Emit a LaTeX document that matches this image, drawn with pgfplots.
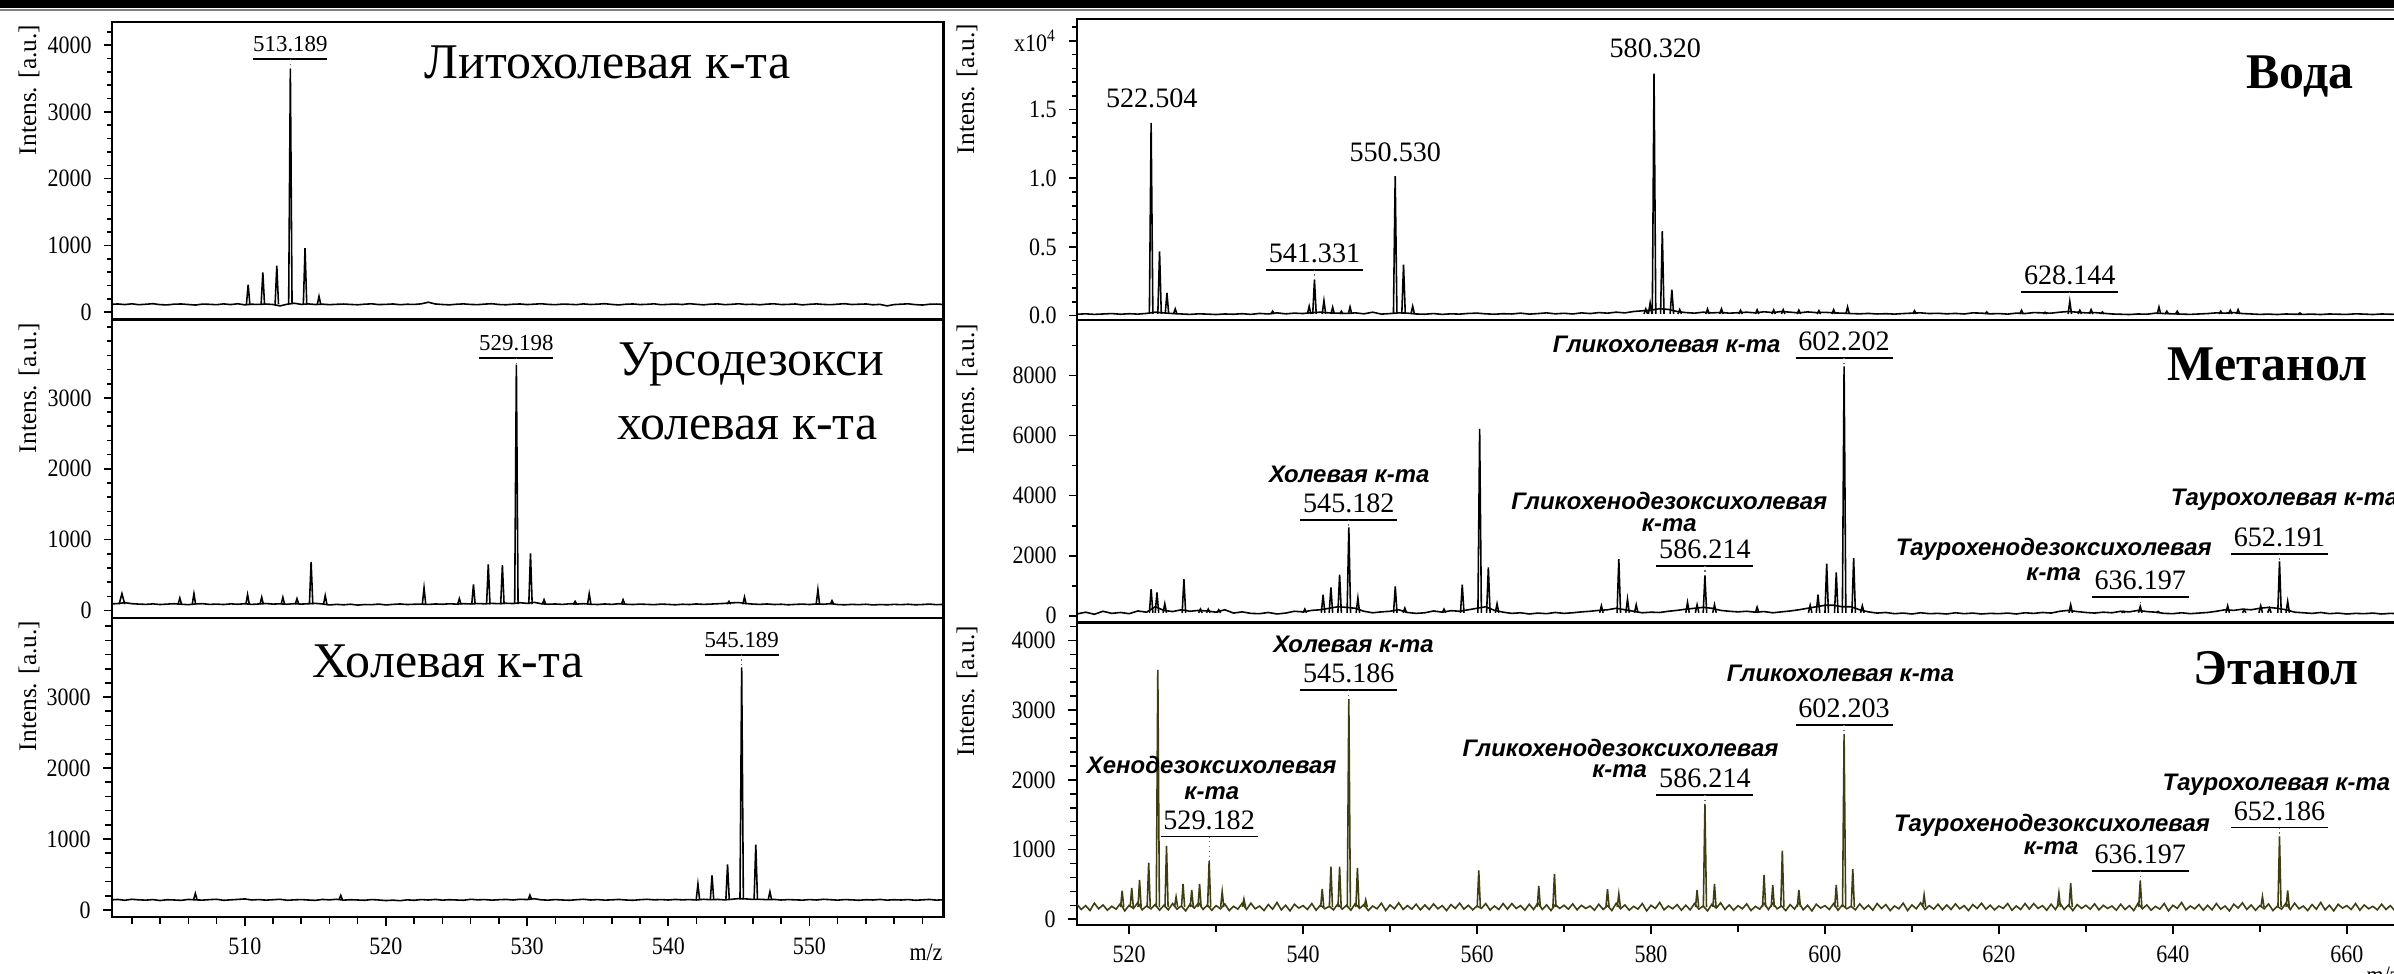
\documentclass[border=0pt]{standalone}
\usepackage{pgfplots}
\pgfplotsset{compat=1.18}
\usepackage{fontspec}
\setmainfont{Liberation Serif}
\newfontfamily\lsans{Liberation Sans}
\newfontfamily\tickfam{Liberation Serif}[FakeStretch=0.88]
\definecolor{olivetrace}{RGB}{62,62,18}
\newcommand\tickf{\tickfam\fontsize{7.1}{8}\selectfont}
\newcommand\labf{\fontsize{7.2}{8}\selectfont}
\newcommand\plL{\fontsize{6.5}{7}\selectfont}
\newcommand\plR{\fontsize{8}{9}\selectfont}
\newcommand\bigL{\fontsize{14.2}{16}\selectfont}
\newcommand\bigR{\fontsize{14.2}{16}\selectfont\bfseries}
\newcommand\sbi{\lsans\bfseries\itshape\fontsize{6.8}{7.5}\selectfont}
% #1 x, #2 underline y, #3 peak y, #4 half width, #5 font, #6 text
\newcommand{\plab}[6]{%
  \draw[line width=0.55pt] ([xshift=-#4]axis cs:#1,#2) -- ([xshift=#4]axis cs:#1,#2);
  \draw[densely dotted, line width=0.35pt, black!60] (axis cs:#1,#2) -- (axis cs:#1,#3);
  \node[anchor=south, inner sep=0pt, yshift=1.8pt, font=#5] at (axis cs:#1,#2) {#6};
}
\pgfplotsset{
  spec/.style={scale only axis, anchor=south west,
    axis line style={line width=0.6pt},
    tick style={line width=0.45pt, black}, tick align=outside,
    xtick pos=left, ytick pos=left,
    major tick length=0.08cm, minor tick length=0.05cm,
    ticklabel style={font=\tickf}, scaled ticks=false,
    unbounded coords=jump},
}
\begin{document}
\begin{tikzpicture}[x=0.01cm,y=0.01cm]
\useasboundingbox (0,0) rectangle (2394,974);
\clip (0,0) rectangle (2394,974);
\fill[black] (0,966) rectangle (2394,974);
\draw[gray,line width=0.6pt] (0,964) -- (2394,964);

% ================= LEFT 1 =================
\begin{axis}[spec, at={(1.12cm,6.55cm)}, width=8.31cm, height=2.963cm,
  xmin=500.6, xmax=559.5, ymin=-95, ymax=4345, xtick=\empty,
  ytick={0,1000,2000,3000,4000}, yticklabels={0,1000,2000,3000,4000},
  minor ytick={200,400,...,4200}]
\addplot[black, line width=0.45pt] table[row sep=\\] {x y\\
500.5 118\\501 124\\501.5 115\\502 126\\502.5 113\\503 120\\503.5 128\\504 114\\504.5 110\\505 121\\505.5 124\\506 116\\506.5 108\\507 122\\507.5 119\\508 113\\508.5 125\\509 115\\509.5 127\\510 111\\510.5 120\\511 117\\511.5 123\\512 116\\512.5 95\\513 120\\513.5 135\\514 118\\514.5 125\\515 116\\515.5 121\\516 114\\516.5 119\\517 123\\517.5 117\\518 112\\518.5 121\\519 126\\519.5 115\\520 118\\520.5 124\\521 113\\521.5 120\\522 117\\522.5 126\\523 150\\523.5 124\\524 116\\524.5 111\\525 120\\525.5 125\\526 117\\526.5 114\\527 122\\527.5 128\\528 116\\528.5 112\\529 120\\529.5 124\\530 115\\530.5 121\\531 127\\531.5 118\\532 113\\532.5 122\\533 119\\533.5 114\\534 125\\534.5 116\\535 121\\535.5 128\\536 117\\536.5 110\\537 120\\537.5 124\\538 115\\538.5 119\\539 126\\539.5 113\\540 118\\540.5 123\\541 116\\541.5 128\\542 119\\542.5 111\\543 121\\543.5 125\\544 114\\544.5 119\\545 127\\545.5 116\\546 120\\546.5 112\\547 122\\547.5 126\\548 115\\548.5 118\\549 124\\549.5 110\\550 119\\550.5 125\\551 117\\551.5 113\\552 121\\552.5 128\\553 116\\553.5 120\\554 124\\554.5 112\\555 118\\555.5 95\\556 115\\556.5 121\\557 126\\557.5 114\\558 108\\558.5 120\\559 123\\559.5 117\\
};
\addplot[black, line width=0.45pt] table[row sep=\\] {x y\\
510.12 120\\510.24 413\\510.36 120\\510.4 nan\\
511.16 120\\511.28 597\\511.40 120\\511.4 nan\\
512.15 120\\512.27 697\\512.39 120\\512.4 nan\\
513.11 120\\513.23 3647\\513.35 120\\513.4 nan\\
514.15 120\\514.27 960\\514.39 120\\514.4 nan\\
515.14 120\\515.26 239\\515.38 120\\
};
\plab{513.23}{3796}{3647}{0.37cm}{\plL}{513.189}
\node[font=\bigL] at (axis cs:535.7,3740) {Литохолевая к-та};
\end{axis}

% ================= LEFT 2 =================
\begin{axis}[spec, at={(1.12cm,3.56cm)}, width=8.31cm, height=2.98cm,
  xmin=500.6, xmax=559.5, ymin=-103, ymax=4106, xtick=\empty,
  ytick={0,1000,2000,3000}, yticklabels={0,1000,2000,3000},
  minor ytick={200,400,...,4000}]
\addplot[black, line width=0.45pt] table[row sep=\\] {x y\\
500.5 92\\501 98\\501.5 110\\502 96\\502.5 90\\503 86\\503.5 93\\504 84\\504.5 90\\505 95\\505.5 88\\506 82\\506.5 92\\507 96\\507.5 86\\508 90\\508.5 84\\509 93\\509.5 88\\510 95\\510.5 86\\511 92\\511.5 98\\512 90\\512.5 94\\513 88\\513.5 96\\514 90\\514.5 95\\515 100\\515.5 92\\516 78\\516.5 86\\517 80\\517.5 88\\518 76\\518.5 84\\519 82\\519.5 90\\520 78\\520.5 86\\521 92\\521.5 84\\522 88\\522.5 90\\523 85\\523.5 92\\524 88\\524.5 94\\525 90\\525.5 96\\526 92\\526.5 98\\527 94\\527.5 100\\528 96\\528.5 102\\529 98\\529.5 110\\530 100\\530.5 115\\531 95\\531.5 88\\532 92\\532.5 86\\533 94\\533.5 90\\534 96\\534.5 88\\535 84\\535.5 92\\536 86\\536.5 95\\537 88\\537.5 84\\538 90\\538.5 86\\539 82\\539.5 90\\540 86\\540.5 80\\541 88\\541.5 84\\542 92\\542.5 86\\543 90\\543.5 95\\544 100\\544.5 108\\545 112\\545.5 98\\546 90\\546.5 86\\547 92\\547.5 84\\548 88\\548.5 80\\549 86\\549.5 90\\550 84\\550.5 92\\551 88\\551.5 96\\552 84\\552.5 80\\553 86\\553.5 82\\554 88\\554.5 78\\555 84\\555.5 80\\556 86\\556.5 82\\557 88\\557.5 80\\558 84\\558.5 90\\559 82\\559.5 86\\
};
\addplot[black, line width=0.45pt] table[row sep=\\] {x y\\
501.1 88\\501.3 238\\501.5 88\\501.5 nan\\
505.28 88\\505.4 176\\505.52 88\\505.5 nan\\
506.28 88\\506.4 238\\506.52 88\\506.5 nan\\
510.08 88\\510.2 224\\510.32 88\\510.3 nan\\
511.08 88\\511.2 186\\511.32 88\\511.3 nan\\
512.58 88\\512.7 186\\512.82 88\\512.8 nan\\
513.58 88\\513.7 167\\513.82 88\\513.8 nan\\
514.58 88\\514.7 686\\514.82 88\\514.8 nan\\
515.58 88\\515.7 210\\515.82 88\\515.8 nan\\
522.58 88\\522.7 319\\522.82 88\\522.8 nan\\
525.08 88\\525.2 167\\525.32 88\\525.3 nan\\
526.08 88\\526.2 367\\526.32 88\\526.3 nan\\
527.13 88\\527.25 652\\527.37 88\\527.4 nan\\
528.13 88\\528.25 638\\528.37 88\\528.4 nan\\
529.12 88\\529.24 3471\\529.36 88\\529.4 nan\\
530.12 88\\530.24 805\\530.36 88\\530.4 nan\\
531.08 88\\531.2 152\\531.32 88\\531.3 nan\\
533.28 88\\533.4 129\\533.52 88\\533.5 nan\\
534.28 88\\534.4 238\\534.52 88\\534.5 nan\\
536.68 88\\536.8 152\\536.92 88\\536.9 nan\\
544.18 88\\544.3 129\\544.42 88\\544.4 nan\\
545.28 88\\545.4 190\\545.52 88\\545.5 nan\\
550.48 88\\550.6 295\\550.72 88\\550.7 nan\\
551.48 88\\551.6 138\\551.72 88\\
};
\plab{529.24}{3565}{3471}{0.37cm}{\plL}{529.198}
\node[font=\bigL] at (axis cs:545.9,3470) {Урсодезокси};
\node[font=\bigL] at (axis cs:545.6,2576) {холевая к-та};
\end{axis}

% ================= LEFT 3 =================
\begin{axis}[spec, at={(1.12cm,0.57cm)}, width=8.31cm, height=2.99cm,
  xmin=500.6, xmax=559.5, ymin=-99, ymax=4118,
  xtick={510,520,530,540,550}, xticklabels={510,520,530,540,550},
  minor xtick={502,504,...,558},
  major tick length=0.09cm, minor tick length=0.07cm,
  ytick={0,1000,2000,3000}, yticklabels={0,1000,2000,3000},
  minor ytick={200,400,...,4000}]
\addplot[black, line width=0.45pt] table[row sep=\\] {x y\\
500.5 140\\501 148\\501.5 136\\502 150\\502.5 142\\503 138\\503.5 146\\504 132\\504.5 144\\505 140\\505.5 135\\506 148\\506.5 142\\507 138\\507.5 145\\508 150\\508.5 136\\509 142\\509.5 148\\510 155\\510.5 140\\511 146\\511.5 138\\512 144\\512.5 150\\513 136\\513.5 142\\514 146\\514.5 140\\515 135\\515.5 148\\516 142\\516.5 150\\517 138\\517.5 144\\518 140\\518.5 136\\519 146\\519.5 140\\520 132\\520.5 138\\521 130\\521.5 142\\522 136\\522.5 146\\523 140\\523.5 148\\524 138\\524.5 144\\525 140\\525.5 136\\526 150\\526.5 142\\527 146\\527.5 138\\528 144\\528.5 148\\529 140\\529.5 150\\530 146\\530.5 158\\531 142\\531.5 138\\532 146\\532.5 140\\533 136\\533.5 144\\534 150\\534.5 140\\535 146\\535.5 138\\536 142\\536.5 148\\537 140\\537.5 136\\538 144\\538.5 150\\539 142\\539.5 146\\540 140\\540.5 148\\541 142\\541.5 146\\542 140\\542.5 150\\543 144\\543.5 148\\544 142\\544.5 150\\545 160\\545.5 155\\546 148\\546.5 150\\547 144\\547.5 148\\548 140\\548.5 146\\549 142\\549.5 138\\550 146\\550.5 140\\551 150\\551.5 144\\552 138\\552.5 146\\553 142\\553.5 136\\554 144\\554.5 140\\555 148\\555.5 138\\556 144\\556.5 140\\557 146\\557.5 136\\558 142\\558.5 148\\559 138\\559.5 144\\
};
\addplot[black, line width=0.45pt] table[row sep=\\] {x y\\
506.38 145\\506.5 233\\506.62 145\\506.6 nan\\
516.68 145\\516.8 205\\516.92 145\\516.9 nan\\
530.08 145\\530.2 209\\530.32 145\\530.3 nan\\
541.98 145\\542.1 363\\542.22 145\\542.2 nan\\
542.98 145\\543.1 488\\543.22 145\\543.2 nan\\
544.08 145\\544.2 642\\544.32 145\\544.3 nan\\
545.08 145\\545.2 3419\\545.32 145\\545.3 nan\\
546.08 145\\546.2 921\\546.32 145\\546.3 nan\\
547.08 145\\547.2 256\\547.32 145\\
};
\plab{545.2}{3597}{3419}{0.37cm}{\plL}{545.189}
\node[font=\bigL] at (axis cs:524.4,3502) {Холевая к-та};
\end{axis}

% ================= RIGHT 1 (Вода) =================
\begin{axis}[spec, at={(10.763cm,6.533cm)}, width=13.30cm, height=3.007cm,
  xmin=514, xmax=667, ymin=-0.034, ymax=2.156, xtick=\empty,
  ytick={0,0.5,1,1.5,2}, yticklabels={0.0,0.5,1.0,1.5,x10\textsuperscript{4}},
  minor ytick={0.1,0.2,...,2.1}]
\addplot[black, line width=0.45pt] table[row sep=\\] {x y\\
514 .010\\515 .013\\516 .009\\517 .012\\518 .015\\519 .010\\520 .014\\521 .011\\522 .016\\523 .025\\524 .020\\525 .015\\526 .012\\527 .009\\528 .013\\529 .011\\530 .008\\531 .012\\532 .010\\533 .014\\534 .009\\535 .016\\536 .012\\537 .020\\538 .013\\539 .018\\540 .015\\541 .022\\542 .025\\543 .020\\544 .018\\545 .016\\546 .020\\547 .013\\548 .025\\549 .011\\550 .015\\551 .020\\552 .018\\553 .012\\554 .010\\555 .015\\556 .009\\557 .013\\558 .011\\559 .016\\560 .018\\561 .013\\562 .010\\563 .014\\564 .012\\565 .018\\566 .011\\567 .015\\568 .020\\569 .013\\570 .017\\571 .012\\572 .020\\573 .015\\574 .022\\575 .018\\576 .025\\577 .020\\578 .030\\579 .035\\580 .040\\581 .050\\582 .045\\583 .030\\584 .022\\585 .018\\586 .025\\587 .020\\588 .023\\589 .018\\590 .021\\591 .025\\592 .020\\593 .028\\594 .022\\595 .030\\596 .025\\597 .020\\598 .027\\599 .022\\600 .024\\601 .020\\602 .018\\603 .015\\604 .013\\605 .016\\606 .012\\607 .014\\608 .011\\609 .015\\610 .018\\611 .020\\612 .015\\613 .017\\614 .013\\615 .016\\616 .012\\617 .020\\618 .018\\619 .013\\620 .015\\621 .011\\622 .018\\623 .015\\624 .022\\625 .020\\626 .018\\627 .025\\628 .030\\629 .025\\630 .020\\631 .022\\632 .017\\633 .012\\634 .010\\635 .008\\636 .012\\637 .010\\638 .018\\639 .015\\640 .013\\641 .011\\642 .009\\643 .012\\644 .015\\645 .020\\646 .018\\647 .022\\648 .015\\649 .012\\650 .009\\651 .011\\652 .008\\653 .012\\654 .010\\655 .009\\656 .011\\657 .008\\658 .012\\659 .010\\660 .009\\661 .013\\662 .011\\663 .008\\664 .012\\665 .010\\666 .009\\667 .011\\
};
\addplot[black, line width=0.45pt] table[row sep=\\] {x y\\
522.33 .012\\522.53 1.403\\522.73 .012\\522.8 nan\\
523.3 .012\\523.5 .468\\523.7 .012\\523.7 nan\\
524.15 .012\\524.35 .165\\524.55 .012\\524.6 nan\\
525.1 .012\\525.3 .049\\525.5 .012\\525.5 nan\\
536.3 .012\\536.5 .032\\536.7 .012\\536.7 nan\\
540.5 .012\\540.7 .068\\540.9 .012\\540.9 nan\\
541.11 .012\\541.31 .262\\541.51 .012\\541.5 nan\\
542.2 .012\\542.4 .109\\542.6 .012\\542.6 nan\\
543.2 .012\\543.4 .061\\543.6 .012\\543.6 nan\\
544.2 .012\\544.4 .032\\544.6 .012\\544.6 nan\\
545.2 .012\\545.4 .063\\545.6 .012\\545.6 nan\\
550.39 .012\\550.59 1.0145\\550.79 .012\\550.8 nan\\
551.35 .012\\551.55 .371\\551.75 .012\\551.8 nan\\
552.4 .012\\552.6 .068\\552.8 .012\\552.8 nan\\
579.2 .012\\579.4 .049\\579.6 .012\\579.6 nan\\
579.7 .012\\579.9 .092\\580.1 .012\\580.1 nan\\
580.15 .012\\580.35 1.762\\580.55 .012\\580.6 nan\\
581.1 .012\\581.3 .614\\581.5 .012\\581.5 nan\\
582.2 .012\\582.4 .189\\582.6 .012\\582.6 nan\\
583.1 .012\\583.3 .044\\583.5 .012\\583.5 nan\\
586.3 .012\\586.5 .048\\586.7 .012\\586.7 nan\\
587.9 .012\\588.1 .049\\588.3 .012\\588.3 nan\\
590.1 .012\\590.3 .039\\590.5 .012\\590.5 nan\\
592 .012\\592.2 .042\\592.4 .012\\592.4 nan\\
593.9 .012\\594.1 .041\\594.3 .012\\594.3 nan\\
595 .012\\595.2 .043\\595.4 .012\\595.4 nan\\
596.8 .012\\597 .040\\597.2 .012\\597.2 nan\\
599.1 .012\\599.3 .036\\599.5 .012\\599.5 nan\\
600.8 .012\\601 .043\\601.2 .012\\601.2 nan\\
602.4 .012\\602.6 .063\\602.8 .012\\602.8 nan\\
610.1 .012\\610.3 .036\\610.5 .012\\610.5 nan\\
618.4 .012\\618.6 .027\\618.8 .012\\618.8 nan\\
622.4 .012\\622.6 .039\\622.8 .012\\622.8 nan\\
625.1 .012\\625.3 .024\\625.5 .012\\625.5 nan\\
627.95 .012\\628.15 .104\\628.35 .012\\628.4 nan\\
629.1 .012\\629.3 .039\\629.5 .012\\629.5 nan\\
630.4 .012\\630.6 .044\\630.8 .012\\630.8 nan\\
631.7 .012\\631.9 .027\\632.1 .012\\632.1 nan\\
638.2 .012\\638.4 .063\\638.6 .012\\638.6 nan\\
639.1 .012\\639.3 .032\\639.5 .012\\639.5 nan\\
640.3 .012\\640.5 .032\\640.7 .012\\640.7 nan\\
645.3 .012\\645.5 .032\\645.7 .012\\645.7 nan\\
646.4 .012\\646.6 .039\\646.8 .012\\646.8 nan\\
647.3 .012\\647.5 .044\\647.7 .012\\647.7 nan\\
654.4 .012\\654.6 .019\\654.8 .012\\
};
\node[font=\plR] at (axis cs:522.6,1.578) {522.504};
\node[font=\plR] at (axis cs:550.6,1.189) {550.530};
\node[font=\plR] at (axis cs:580.5,1.942) {580.320};
\plab{541.31}{0.3349}{0.262}{0.485cm}{\plR}{541.331}
\plab{628.15}{0.1723}{0.104}{0.485cm}{\plR}{628.144}
\node[font=\bigR] at (axis cs:654.6,1.738) {Вода};
\end{axis}

% ================= RIGHT 2 (Метанол) =================
\begin{axis}[spec, at={(10.763cm,3.513cm)}, width=13.30cm, height=3.02cm,
  xmin=514, xmax=667, ymin=-223, ymax=9843, xtick=\empty,
  ytick={0,2000,4000,6000,8000}, yticklabels={0,2000,4000,6000,8000},
  minor ytick={1000,2000,...,9000}]
\addplot[black, line width=0.45pt] table[row sep=\\] {x y\\
514 60\\515 120\\516 50\\517 150\\518 80\\519 110\\520 70\\521 160\\522 120\\523 300\\524 180\\525 140\\526 200\\527 150\\528 180\\529 160\\530 120\\531 200\\532 90\\533 130\\534 80\\535 70\\536 110\\537 60\\538 90\\539 150\\540 130\\541 180\\542 200\\543 250\\544 300\\545 280\\546 250\\547 150\\548 100\\549 130\\550 150\\551 200\\552 110\\553 80\\554 100\\555 160\\556 120\\557 170\\558 150\\559 200\\560 250\\561 300\\562 180\\563 120\\564 80\\565 100\\566 60\\567 90\\568 70\\569 110\\570 80\\571 100\\572 130\\573 150\\574 180\\575 200\\576 250\\577 200\\578 150\\579 100\\580 120\\581 110\\582 150\\583 180\\584 220\\585 250\\586 280\\587 250\\588 180\\589 150\\590 130\\591 150\\592 120\\593 140\\594 100\\595 130\\596 160\\597 200\\598 250\\599 300\\600 350\\601 350\\602 300\\603 300\\604 200\\605 130\\606 90\\607 110\\608 70\\609 90\\610 60\\611 100\\612 70\\613 80\\614 60\\615 100\\616 70\\617 90\\618 60\\619 80\\620 70\\621 90\\622 60\\623 100\\624 80\\625 110\\626 90\\627 150\\628 180\\629 140\\630 110\\631 90\\632 120\\633 100\\634 150\\635 130\\636 180\\637 140\\638 120\\639 80\\640 70\\641 100\\642 70\\643 90\\644 110\\645 150\\646 200\\647 180\\648 220\\649 200\\650 250\\651 280\\652 250\\653 200\\654 120\\655 100\\656 80\\657 110\\658 70\\659 90\\660 60\\661 80\\662 70\\663 90\\664 60\\665 80\\666 70\\667 90\\
};
\addplot[black, line width=0.45pt] table[row sep=\\] {x y\\
522.33 100\\522.53 889\\522.73 100\\522.8 nan\\
523.0 100\\523.2 778\\523.4 100\\523.4 nan\\
523.9 100\\524.1 400\\524.3 100\\524.3 nan\\
526.1 100\\526.3 1222\\526.5 100\\526.5 nan\\
528.0 100\\528.2 222\\528.4 100\\528.4 nan\\
528.9 100\\529.1 222\\529.3 100\\529.3 nan\\
530.1 100\\530.3 200\\530.5 100\\530.5 nan\\
540.0 100\\540.2 222\\540.4 100\\540.4 nan\\
542.1 100\\542.3 700\\542.5 100\\542.5 nan\\
543.0 100\\543.2 944\\543.4 100\\543.4 nan\\
544.0 100\\544.2 1367\\544.4 100\\544.4 nan\\
545.06 100\\545.26 2944\\545.46 100\\545.5 nan\\
546.1 100\\546.3 589\\546.5 100\\546.5 nan\\
550.4 100\\550.6 978\\550.8 100\\550.8 nan\\
551.5 100\\551.7 255\\551.9 100\\551.9 nan\\
556.0 100\\556.2 222\\556.4 100\\556.4 nan\\
558.1 100\\558.3 1033\\558.5 100\\558.5 nan\\
560.1 100\\560.3 6222\\560.5 100\\560.5 nan\\
561.1 100\\561.3 1611\\561.5 100\\561.5 nan\\
562.1 100\\562.3 400\\562.5 100\\562.5 nan\\
574.1 100\\574.3 333\\574.5 100\\574.5 nan\\
576.1 100\\576.3 1889\\576.5 100\\576.5 nan\\
577.1 100\\577.3 555\\577.5 100\\577.5 nan\\
578.1 100\\578.3 367\\578.5 100\\578.5 nan\\
584.0 100\\584.2 444\\584.4 100\\584.4 nan\\
585.1 100\\585.3 367\\585.5 100\\585.5 nan\\
586.0 100\\586.2 1333\\586.4 100\\586.4 nan\\
587.1 100\\587.3 367\\587.5 100\\587.5 nan\\
592.0 100\\592.2 289\\592.4 100\\592.4 nan\\
598.1 100\\598.3 350\\598.5 100\\598.5 nan\\
599.0 100\\599.2 700\\599.4 100\\599.4 nan\\
600.0 100\\600.2 1733\\600.4 100\\600.4 nan\\
601.1 100\\601.3 1444\\601.5 100\\601.5 nan\\
602.0 100\\602.2 8311\\602.4 100\\602.4 nan\\
603.1 100\\603.3 1922\\603.5 100\\603.5 nan\\
604.1 100\\604.3 333\\604.5 100\\604.5 nan\\
628.05 100\\628.25 367\\628.45 100\\628.5 nan\\
634.1 100\\634.3 144\\634.5 100\\634.5 nan\\
636.05 100\\636.25 311\\636.45 100\\636.5 nan\\
638.1 100\\638.3 144\\638.5 100\\638.5 nan\\
646.1 100\\646.3 333\\646.5 100\\646.5 nan\\
648.0 100\\648.2 200\\648.4 100\\648.4 nan\\
649.9 100\\650.1 333\\650.3 100\\650.3 nan\\
650.9 100\\651.1 255\\651.3 100\\651.3 nan\\
652.06 100\\652.26 1811\\652.46 100\\652.5 nan\\
653.0 100\\653.2 478\\653.4 100\\
};
\node[font=\sbi] at (axis cs:581.8,9032) {Гликохолевая к-та};
\plab{602.2}{8588}{8311}{0.485cm}{\plR}{602.202}
\node[font=\bigR] at (axis cs:650.9,8366) {Метанол};
\node[font=\sbi] at (axis cs:545.3,4700) {Холевая к-та};
\plab{545.26}{3200}{2944}{0.485cm}{\plR}{545.182}
\node[font=\sbi] at (axis cs:582.1,3811) {Гликохенодезоксихолевая};
\node[font=\sbi] at (axis cs:582.1,3033) {к-та};
\plab{586.2}{1667}{1333}{0.485cm}{\plR}{586.214}
\node[font=\sbi] at (axis cs:626.3,2200) {Таурохенодезоксихолевая};
\node[font=\sbi] at (axis cs:626.3,1400) {к-та};
\plab{636.25}{622}{311}{0.485cm}{\plR}{636.197}
\node[font=\sbi, anchor=west, inner sep=0pt] at (axis cs:639.7,3866) {Таурохолевая к-та};
\plab{652.26}{2067}{1811}{0.485cm}{\plR}{652.191}
\end{axis}

% ================= RIGHT 3 (Этанол) =================
\begin{axis}[spec, at={(10.763cm,0.49cm)}, width=13.30cm, height=3.023cm,
  xmin=514, xmax=667, ymin=-82, ymax=4258,
  xtick={520,540,...,660}, xticklabels={520,540,560,580,600,620,640,660},
  minor xtick={530,550,...,650},
  major tick length=0.09cm, minor tick length=0.07cm,
  ytick={0,1000,2000,3000,4000}, yticklabels={0,1000,2000,3000,4000},
  minor ytick={200,400,...,4200}]
\addplot[olivetrace, line width=0.45pt] table[row sep=\\] {x y\\
514 215\\514.5 140\\515 195\\515.5 125\\516 230\\516.5 150\\517 205\\517.5 130\\518 185\\518.5 145\\519 225\\519.5 120\\520 200\\520.5 155\\521 240\\521.5 135\\522 190\\522.5 150\\523 210\\523.5 130\\
524 200\\524.5 135\\525 225\\525.5 145\\526 190\\526.5 120\\527 215\\527.5 160\\528 235\\528.5 140\\529 205\\529.5 130\\530 195\\530.5 150\\531 220\\531.5 125\\532 185\\532.5 145\\533 230\\533.5 140\\
534 230\\534.5 150\\535 190\\535.5 125\\536 210\\536.5 145\\537 240\\537.5 135\\538 200\\538.5 120\\539 215\\539.5 160\\540 195\\540.5 140\\541 225\\541.5 130\\542 205\\542.5 150\\543 185\\543.5 135\\
544 220\\544.5 145\\545 200\\545.5 130\\546 225\\546.5 155\\547 210\\547.5 125\\548 190\\548.5 150\\549 230\\549.5 125\\550 205\\550.5 150\\551 235\\551.5 140\\552 195\\552.5 145\\553 215\\553.5 135\\
554 205\\554.5 140\\555 220\\555.5 150\\556 195\\556.5 125\\557 210\\557.5 155\\558 230\\558.5 145\\559 200\\559.5 135\\560 190\\560.5 155\\561 225\\561.5 130\\562 190\\562.5 140\\563 225\\563.5 145\\
564 225\\564.5 155\\565 195\\565.5 130\\566 215\\566.5 140\\567 235\\567.5 140\\568 205\\568.5 125\\569 210\\569.5 155\\570 200\\570.5 145\\571 220\\571.5 135\\572 200\\572.5 155\\573 190\\573.5 130\\
574 215\\574.5 140\\575 195\\575.5 125\\576 230\\576.5 150\\577 205\\577.5 130\\578 185\\578.5 145\\579 225\\579.5 120\\580 200\\580.5 155\\581 240\\581.5 135\\582 190\\582.5 150\\583 210\\583.5 130\\
584 200\\584.5 135\\585 225\\585.5 145\\586 190\\586.5 120\\587 215\\587.5 160\\588 235\\588.5 140\\589 205\\589.5 130\\590 195\\590.5 150\\591 220\\591.5 125\\592 185\\592.5 145\\593 230\\593.5 140\\
594 230\\594.5 150\\595 190\\595.5 125\\596 210\\596.5 145\\597 240\\597.5 135\\598 200\\598.5 120\\599 215\\599.5 160\\600 195\\600.5 140\\601 225\\601.5 130\\602 205\\602.5 150\\603 185\\603.5 135\\
604 220\\604.5 145\\605 200\\605.5 130\\606 225\\606.5 155\\607 210\\607.5 125\\608 190\\608.5 150\\609 230\\609.5 125\\610 205\\610.5 150\\611 235\\611.5 140\\612 195\\612.5 145\\613 215\\613.5 135\\
614 205\\614.5 140\\615 220\\615.5 150\\616 195\\616.5 125\\617 210\\617.5 155\\618 230\\618.5 145\\619 200\\619.5 135\\620 190\\620.5 155\\621 225\\621.5 130\\622 190\\622.5 140\\623 225\\623.5 145\\
624 225\\624.5 155\\625 195\\625.5 130\\626 215\\626.5 140\\627 235\\627.5 140\\628 205\\628.5 125\\629 210\\629.5 155\\630 200\\630.5 145\\631 220\\631.5 135\\632 200\\632.5 155\\633 190\\633.5 130\\
634 215\\634.5 140\\635 195\\635.5 125\\636 230\\636.5 150\\637 205\\637.5 130\\638 185\\638.5 145\\639 225\\639.5 120\\640 200\\640.5 155\\641 240\\641.5 135\\642 190\\642.5 150\\643 210\\643.5 130\\
644 200\\644.5 135\\645 225\\645.5 145\\646 190\\646.5 120\\647 215\\647.5 160\\648 235\\648.5 140\\649 205\\649.5 130\\650 195\\650.5 150\\651 220\\651.5 125\\652 185\\652.5 145\\653 230\\653.5 140\\
654 230\\654.5 150\\655 190\\655.5 125\\656 210\\656.5 145\\657 240\\657.5 135\\658 200\\658.5 120\\659 215\\659.5 160\\660 195\\660.5 140\\661 225\\661.5 130\\662 205\\662.5 150\\663 185\\663.5 135\\
664 215\\664.5 140\\665 195\\665.5 125\\666 230\\666.5 150\\667 205\\
};
\addplot[olivetrace, line width=0.45pt] table[row sep=\\] {x y\\
519.02 175\\519.2 410\\519.38 175\\519.4 nan\\
520.12 175\\520.3 450\\520.48 175\\520.5 nan\\
521.02 175\\521.2 565\\521.38 175\\521.4 nan\\
522.07 175\\522.25 812\\522.43 175\\522.4 nan\\
523.12 175\\523.3 3579\\523.48 175\\523.5 nan\\
524.12 175\\524.3 1052\\524.48 175\\524.5 nan\\
525.22 175\\525.4 320\\525.58 175\\525.6 nan\\
526.02 175\\526.2 507\\526.38 175\\526.4 nan\\
527.02 175\\527.2 420\\527.38 175\\527.4 nan\\
527.92 175\\528.1 507\\528.28 175\\528.3 nan\\
529.02 175\\529.2 837\\529.38 175\\529.4 nan\\
530.52 175\\530.7 396\\530.88 175\\530.9 nan\\
533.02 175\\533.2 290\\533.38 175\\533.4 nan\\
542.02 175\\542.2 435\\542.38 175\\542.4 nan\\
543.02 175\\543.2 755\\543.38 175\\543.4 nan\\
544.02 175\\544.2 755\\544.38 175\\544.4 nan\\
545.08 175\\545.26 3158\\545.44 175\\545.4 nan\\
546.07 175\\546.25 736\\546.43 175\\546.4 nan\\
547.02 175\\547.2 277\\547.38 175\\547.4 nan\\
560.02 175\\560.2 699\\560.38 175\\560.4 nan\\
566.92 175\\567.1 478\\567.28 175\\567.3 nan\\
568.72 175\\568.9 651\\569.08 175\\569.1 nan\\
574.82 175\\575.0 431\\575.18 175\\575.2 nan\\
576.12 175\\576.3 364\\576.48 175\\576.5 nan\\
585.12 175\\585.3 421\\585.48 175\\585.5 nan\\
586.02 175\\586.2 1656\\586.38 175\\586.4 nan\\
587.12 175\\587.3 507\\587.48 175\\587.5 nan\\
592.82 175\\593.0 636\\593.18 175\\593.2 nan\\
593.82 175\\594.0 493\\594.18 175\\594.2 nan\\
594.92 175\\595.1 986\\595.28 175\\595.3 nan\\
596.82 175\\597.0 421\\597.18 175\\597.2 nan\\
601.12 175\\601.3 493\\601.48 175\\601.5 nan\\
602.02 175\\602.2 2656\\602.38 175\\602.4 nan\\
603.02 175\\603.2 718\\603.38 175\\603.4 nan\\
611.22 175\\611.4 349\\611.58 175\\611.6 nan\\
626.72 175\\626.9 373\\627.08 175\\627.1 nan\\
628.07 175\\628.25 517\\628.43 175\\628.4 nan\\
636.07 175\\636.25 555\\636.43 175\\636.4 nan\\
650.12 175\\650.3 325\\650.48 175\\650.5 nan\\
652.08 175\\652.26 1187\\652.44 175\\652.4 nan\\
653.02 175\\653.2 412\\653.38 175\\
};
\node[font=\sbi] at (axis cs:545.8,3948) {Холевая к-та};
\plab{545.26}{3292}{3158}{0.485cm}{\plR}{545.186}
\node[font=\sbi] at (axis cs:601.8,3531) {Гликохолевая к-та};
\plab{602.2}{2790}{2656}{0.485cm}{\plR}{602.203}
\node[font=\bigR] at (axis cs:651.9,3603) {Этанол};
\node[font=\sbi] at (axis cs:576.5,2455) {Гликохенодезоксихолевая};
\node[font=\sbi] at (axis cs:576.4,2120) {к-та};
\plab{586.2}{1785}{1656}{0.485cm}{\plR}{586.214}
\node[font=\sbi] at (axis cs:529.5,2215) {Хенодезоксихолевая};
\node[font=\sbi] at (axis cs:529.5,1809) {к-та};
\plab{529.2}{1187}{837}{0.485cm}{\plR}{529.182}
\node[font=\sbi] at (axis cs:626.1,1354) {Таурохенодезоксихолевая};
\node[font=\sbi] at (axis cs:626.0,1019) {к-та};
\plab{636.25}{694}{555}{0.485cm}{\plR}{636.197}
\node[font=\sbi] at (axis cs:651.9,1928) {Таурохолевая к-та};
\plab{652.26}{1316}{1187}{0.485cm}{\plR}{652.186}
\end{axis}

% axis labels
\node[rotate=90, font=\labf] at (29,884) {Intens. [a.u.]};
\node[rotate=90, font=\labf] at (29,586) {Intens. [a.u.]};
\node[rotate=90, font=\labf] at (29,288) {Intens. [a.u.]};
\node[rotate=90, font=\labf] at (967,885) {Intens. [a.u.]};
\node[rotate=90, font=\labf] at (967,585) {Intens. [a.u.]};
\node[rotate=90, font=\labf] at (967,283) {Intens. [a.u.]};
\node[font=\tickf, anchor=south] at (926,1) {m/z};
\node[font=\tickf, anchor=north west, inner sep=0pt] at (2366,8) {m/z};
\end{tikzpicture}
\end{document}
